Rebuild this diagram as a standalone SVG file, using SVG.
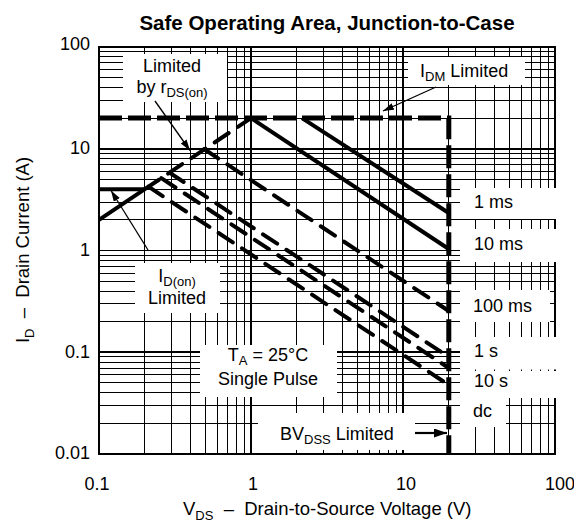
<svg xmlns="http://www.w3.org/2000/svg" width="574" height="527" viewBox="0 0 574 527">
<style>
text{font-family:"Liberation Sans",Arial,Helvetica,sans-serif;font-size:18px;fill:#000}
.title{font-weight:bold;font-size:20.5px}
.axis{font-size:18.5px}
.sub{font-size:13px}
.grid{stroke:#000;stroke-width:1;fill:none}
.major{stroke:#000;stroke-width:1.7;fill:none}
.frame{stroke:#000;stroke-width:1.7;fill:none}
.box{fill:#fff;stroke:none}
.solid{stroke:#000;stroke-width:4;fill:none}
.dash{stroke:#000;stroke-width:4;fill:none;stroke-dasharray:17 11;stroke-linecap:round}
.lim{stroke:#000;stroke-width:5;fill:none;stroke-dasharray:23 6}
.arrow{stroke:#000;stroke-width:1.3;fill:none}
.arrowb{stroke:#000;stroke-width:2.2;fill:none}
</style>
<defs>
<marker id="ah" markerUnits="userSpaceOnUse" markerWidth="12" markerHeight="8" refX="11" refY="3.5" orient="auto"><path d="M0,0 L11,3.5 L0,7 z" fill="#000"/></marker>
<marker id="ahb" markerUnits="userSpaceOnUse" markerWidth="14" markerHeight="10" refX="13" refY="4.5" orient="auto"><path d="M0,0 L13,4.5 L0,9 z" fill="#000"/></marker>
</defs>

<g id="grid" shape-rendering="crispEdges">
<path class="grid" d="M144.8,47V454M171.5,47V454M190.5,47V454M205.2,47V454M217.3,47V454M227.5,47V454M236.3,47V454M244,47V454
M296.8,47V454M323.5,47V454M342.5,47V454M357.2,47V454M369.3,47V454M379.5,47V454M388.3,47V454M396,47V454
M448.8,47V454M475.5,47V454M494.5,47V454M509.2,47V454M521.3,47V454M531.5,47V454M540.3,47V454M548,47V454
M99,423.4H555M99,405.5H555M99,392.7H555M99,382.9H555M99,374.8H555M99,368H555M99,362.1H555M99,356.9H555
M99,321.6H555M99,303.7H555M99,291H555M99,281.1H555M99,273.1H555M99,266.3H555M99,260.4H555M99,255.2H555
M99,219.9H555M99,202H555M99,189.2H555M99,179.4H555M99,171.3H555M99,164.5H555M99,158.6H555M99,153.4H555
M99,118.1H555M99,100.2H555M99,87.5H555M99,77.6H555M99,69.6H555M99,62.8H555M99,56.9H555M99,51.7H555"/>
<path class="major" d="M251,47V454M403,47V454M99,352.3H555M99,250.5H555M99,148.8H555"/>
<rect class="frame" x="99" y="47" width="456" height="407"/>
</g>

<g id="label-boxes">
<rect class="box" x="123" y="54" width="104" height="48"/>
<rect class="box" x="408" y="57" width="117" height="28"/>
<rect class="box" x="135" y="263" width="85" height="50"/>
<rect class="box" x="200" y="345" width="137" height="52"/>
<rect class="box" x="258" y="413" width="157" height="37"/>
<rect class="box" x="460" y="188" width="98" height="31"/>
<rect class="box" x="460" y="229" width="98" height="33"/>
<rect class="box" x="460" y="290" width="90" height="32"/>
<rect class="box" x="460" y="337" width="98" height="32.5"/>
<rect class="box" x="460" y="371" width="98" height="27"/>
<rect class="box" x="460" y="398" width="46" height="29"/>
</g>

<g id="connectors">
<path id="idon-limit" class="solid" d="M99,189.2H144.8"/>
<path id="rds-solid" class="solid" d="M99,219.9L144.8,189.2"/>
<path id="rds-dash" class="dash" d="M144.8,189.2L251,118.1"/>
<path id="idm-bvdss" class="lim" d="M99,118.1H448.8V454"/>
<path id="t1ms" class="solid" d="M302,118.1L448.8,213"/>
<path id="t10ms" class="solid" d="M251,118.1L448.8,249"/>
<path id="t100ms" class="dash" d="M204,149L448.8,311"/>
<path id="t1s" class="dash" d="M169.5,172.6L448.8,357"/>
<path id="t10s" class="dash" d="M161.3,178.1L448.8,368"/>
<path id="tdc" class="dash" d="M148.5,186.7L448.8,385"/>
<path class="arrow" d="M155,101L190,150.5" marker-end="url(#ah)"/>
<path class="arrow" d="M436,87L383,111" marker-end="url(#ah)"/>
<path class="arrow" d="M148,250L111,190.5" marker-end="url(#ah)"/>
<path class="arrowb" d="M415,433H447" marker-end="url(#ahb)"/>
</g>

<g id="title"><text class="title" x="327" y="30" text-anchor="middle">Safe Operating Area, Junction-to-Case</text></g>

<g id="y-ticks" text-anchor="end">
<text x="90" y="50">100</text>
<text x="90" y="154">10</text>
<text x="90" y="256">1</text>
<text x="90" y="358">0.1</text>
<text x="90" y="459">0.01</text>
</g>
<g id="x-ticks" text-anchor="middle">
<text x="97" y="490">0.1</text>
<text x="253" y="490">1</text>
<text x="406" y="490">10</text>
<text x="560" y="490">100</text>
</g>

<g id="x-axis-label"><text class="axis" x="183" y="515">V<tspan class="sub" dy="5">DS</tspan><tspan dy="-5">&#160;&#160;–&#160;&#160;Drain-to-Source Voltage (V)</tspan></text></g>
<g id="y-axis-label"><text class="axis" transform="translate(29,250) rotate(-90)" text-anchor="middle">I<tspan class="sub" dy="5">D</tspan><tspan dy="-5">&#160;&#160;–&#160;&#160;Drain Current (A)</tspan></text></g>

<g id="label-rds" text-anchor="middle">
<text x="172" y="72">Limited</text>
<text x="172" y="93">by r<tspan class="sub" dy="4">DS(on)</tspan></text>
</g>
<g id="label-idm"><text x="420" y="77">I<tspan class="sub" dy="4">DM</tspan><tspan dy="-4"> Limited</tspan></text></g>
<g id="label-idon" text-anchor="middle">
<text x="177" y="282">I<tspan class="sub" dy="3.5">D(on)</tspan></text>
<text x="177" y="304">Limited</text>
</g>
<g id="label-ta" text-anchor="middle">
<text x="268" y="361">T<tspan class="sub" dy="3.5">A</tspan><tspan dy="-3.5"> = 25°C</tspan></text>
<text x="268" y="385">Single Pulse</text>
</g>
<g id="label-bvdss"><text x="280" y="440">BV<tspan class="sub" dy="4">DSS</tspan><tspan dy="-4"> Limited</tspan></text></g>
<g id="label-pulses">
<text x="474" y="208">1 ms</text>
<text x="474" y="250">10 ms</text>
<text x="473" y="312">100 ms</text>
<text x="474" y="357">1 s</text>
<text x="474" y="387">10 s</text>
<text x="473" y="417">dc</text>
</g>
</svg>
